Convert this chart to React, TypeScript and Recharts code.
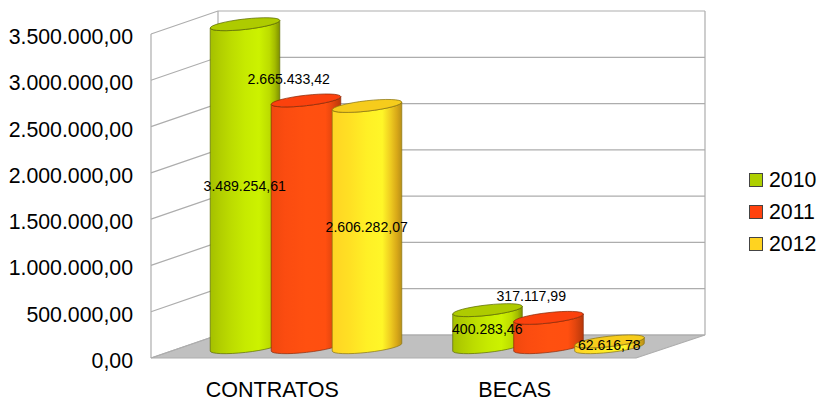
import React from 'react';
import { ComposedChart, Bar, Line, XAxis, YAxis, CartesianGrid, Legend } from 'recharts';

const categories = ['CONTRATOS', 'BECAS'];
const values2010 = [3489254.61, 400283.46];
const values2011 = [2665433.42, 317117.99];
const values2012 = [2606282.07, 62616.78];
const yTicks = [0, 500000, 1000000, 1500000, 2000000, 2500000, 3000000, 3500000];
const years = ['2010', '2011', '2012'];

const data = categories.map((c, i) => ({
  name: c,
  '2010': values2010[i],
  '2011': values2011[i],
  '2012': values2012[i],
}));

const W = 818, H = 401;
const M = { left: 151, right: 182, top: 34, bottom: 43 };
const FONT = '"Liberation Sans", Arial, sans-serif';
const DX = 67, DY = 23;
const PLOT_W = W - M.left - M.right;
const BASE_Y = H - M.bottom;
const TOP_Y = M.top;
const BAR_STEP = 61;
const CYL_RX = 35, CYL_RY = 5.2, TILT = -6.4;
const SHIFT_X = 33.5, SHIFT_Y = 10.8;
const WALL = '#adadad';

const palette: Record<string, { top: string; legend: string; edge: string; stops: [number, string][] }> = {
  '2010': {
    top: '#aecb00', legend: '#aecf00', edge: '#5c6a00',
    stops: [[0, '#a4c000'], [0.12, '#b0cc00'], [0.3, '#bcdc00'], [0.5, '#c6ea00'], [0.7, '#ccf200'], [0.85, '#bcdc00'], [0.93, '#a4bc00'], [1, '#7e9000']],
  },
  '2011': {
    top: '#fb410d', legend: '#ff420e', edge: '#8a2a08',
    stops: [[0, '#f0480e'], [0.2, '#fb4c10'], [0.5, '#ff5010'], [0.78, '#ff4f10'], [0.88, '#e4460e'], [1, '#b8380a']],
  },
  '2012': {
    top: '#f6cc1c', legend: '#ffd320', edge: '#8a7410',
    stops: [[0, '#ffd424'], [0.25, '#ffe024'], [0.5, '#fff026'], [0.72, '#fff628'], [0.84, '#eecb20'], [0.93, '#d8a818'], [1, '#b89018']],
  },
};

const fmt = (v: number) => {
  const [i, d] = v.toFixed(2).split('.');
  return i.replace(/\B(?=(\d{3})+$)/g, '.') + ',' + d;
};

const gridLine = (props: any) => {
  const y = props.y1;
  const isBase = Math.abs(y - BASE_Y) < 1;
  const isTop = Math.abs(y - TOP_Y) < 1;
  const left = M.left, right = M.left + PLOT_W;
  return (
    <g key={'g' + y}>
      {isBase && (
        <polygon
          points={`${left},${BASE_Y} ${right},${BASE_Y} ${right + DX + 2},${BASE_Y - DY} ${left + DX},${BASE_Y - DY}`}
          fill="#c0c0c0"
          stroke={WALL}
          strokeWidth={1.2}
        />
      )}
      {isTop && (
        <path
          d={`M${left} ${BASE_Y}V${TOP_Y}M${left + DX} ${BASE_Y - DY}V${TOP_Y - DY}M${right + DX + 2} ${BASE_Y - DY}V${TOP_Y - DY}`}
          stroke={WALL}
          strokeWidth={1.2}
          fill="none"
        />
      )}
      <path
        d={`M${left} ${y}L${left + DX} ${y - DY}H${right + DX + 2}`}
        stroke={WALL}
        strokeWidth={1.2}
        fill="none"
      />
    </g>
  );
};

const Cylinder = (props: any) => {
  const { x, y, width, height, year, index } = props;
  const p = palette[year];
  const cx = x + width / 2 + SHIFT_X;
  const topY = y - SHIFT_Y;
  const botY = y + height - SHIFT_Y;
  const rad = (TILT * Math.PI) / 180;
  const ex = CYL_RX * Math.cos(rad);
  const ey = CYL_RX * Math.sin(rad);
  const id = `cyl-${year}-${index}`;
  const body =
    `M${cx - ex} ${topY - ey}L${cx - ex} ${botY - ey}` +
    `A${CYL_RX} ${CYL_RY} ${TILT} 0 0 ${cx + ex} ${botY + ey}` +
    `L${cx + ex} ${topY + ey}` +
    `A${CYL_RX} ${CYL_RY} ${TILT} 0 1 ${cx - ex} ${topY - ey}Z`;
  return (
    <g>
      <defs>
        <linearGradient id={id} x1="0" x2="1" y1="0" y2="0">
          {p.stops.map(([o, c]) => (
            <stop key={o} offset={o} stopColor={c} />
          ))}
        </linearGradient>
      </defs>
      <path d={body} fill={`url(#${id})`} stroke={p.edge} strokeWidth={0.7} />
      <ellipse
        cx={cx}
        cy={topY}
        rx={CYL_RX}
        ry={CYL_RY}
        transform={`rotate(${TILT} ${cx} ${topY})`}
        fill={p.top}
        stroke={p.edge}
        strokeWidth={0.7}
      />
    </g>
  );
};

const labelFor = (seriesIdx: number) => (props: any) => {
  const { x, y, value, index } = props;
  const cx = x + (seriesIdx - 1) * BAR_STEP + SHIFT_X;
  const above = seriesIdx === 1;
  const tx = above ? cx - 17 : cx;
  const ty = above ? y - 32.5 : (y + BASE_Y) / 2 - 10.5;
  return (
    <text
      key={seriesIdx + '-' + index}
      x={tx}
      y={ty}
      textAnchor="middle"
      dominantBaseline="central"
      fontFamily={FONT}
      fontSize={14.1}
      fill="#000"
    >
      {fmt(Number(value))}
    </text>
  );
};

const LegendBox = () => (
  <div style={{ fontFamily: FONT, fontSize: 21.3, color: '#000' }}>
    {years.map((yr) => (
      <div key={yr} style={{ display: 'flex', alignItems: 'center', height: 32 }}>
        <span
          style={{
            width: 12,
            height: 12,
            background: palette[yr].legend,
            border: '1px solid #444',
            marginRight: 6,
            display: 'inline-block',
          }}
        />
        <span>{yr}</span>
      </div>
    ))}
  </div>
);

export default function App() {
  return (
    <div style={{ position: 'absolute', left: 0, top: 0, width: W, height: H, background: '#fff' }}>
      <ComposedChart
        width={W}
        height={H}
        data={data}
        margin={{ left: 0, right: M.right, top: M.top, bottom: 0 }}
        barSize={BAR_STEP}
        barGap={0}
      >
        <CartesianGrid horizontal={gridLine} vertical={false} syncWithTicks />
        <XAxis
          dataKey="name"
          height={M.bottom}
          tickLine={false}
          axisLine={false}
          tickMargin={18}
          tick={{ fontFamily: FONT, fontSize: 21.5, fill: '#000' }}
        />
        <YAxis
          width={M.left}
          domain={[0, 3500000]}
          ticks={yTicks}
          tickFormatter={fmt}
          tickLine={false}
          axisLine={false}
          tickSize={0}
          tickMargin={18}
          interval={0}
          tick={{ fontFamily: FONT, fontSize: 21.3, fill: '#000', dy: 2.5 }}
        />
        {years.map((yr) => (
          <Bar
            key={yr}
            dataKey={yr}
            isAnimationActive={false}
            shape={(p: any) => <Cylinder {...p} year={yr} />}
          />
        ))}
        {years.map((yr, i) => (
          <Line
            key={'l' + yr}
            dataKey={yr}
            stroke="none"
            dot={false}
            activeDot={false}
            legendType="none"
            isAnimationActive={false}
            label={labelFor(i)}
          />
        ))}
        <Legend
          layout="horizontal"
          verticalAlign="middle"
          content={() => <LegendBox />}
          wrapperStyle={{ position: 'absolute', left: 749, top: 164, width: 69, height: 96 }}
        />
      </ComposedChart>
    </div>
  );
}
